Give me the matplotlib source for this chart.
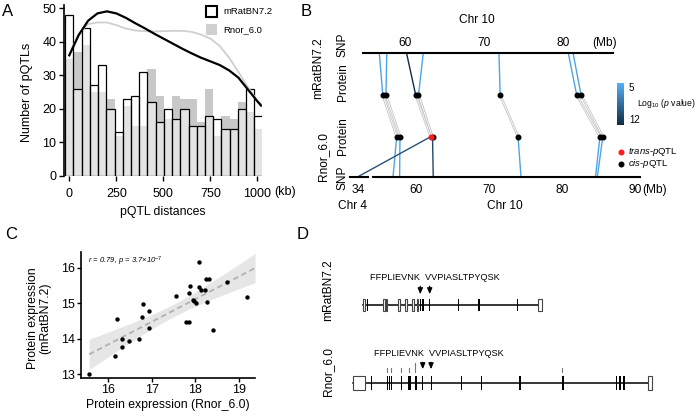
import numpy as np
import matplotlib
matplotlib.use("Agg")
import matplotlib.pyplot as plt
from matplotlib.patches import Rectangle
from matplotlib.colors import LinearSegmentedColormap

plt.rcParams['font.family'] = ['Liberation Sans', 'DejaVu Sans']
plt.rcParams['mathtext.fontset'] = 'custom'
plt.rcParams['mathtext.rm'] = 'Liberation Sans'
plt.rcParams['mathtext.it'] = 'Liberation Sans:italic'

# ---------------- data ----------------
# A: pQTL distance histograms (kb)
bin_w = 43.75
cnt_mrat = [48, 26, 44, 27, 33, 20, 13, 23, 24, 31, 22, 16, 20, 17, 20, 15, 15, 18, 17, 14, 14, 20, 26, 18]
cnt_rnor = [35, 37, 39, 25, 25, 23, 12, 21, 15, 15, 32, 24, 17, 24, 23, 23, 16, 26, 12, 18, 17, 22, 19, 14]
dens_x = [0, 50, 100, 150, 200, 250, 300, 350, 400, 450, 500, 550, 600, 650, 700, 750, 800, 850, 900, 950, 1000, 1020]
dens_mrat = [36, 42, 46.3, 48.5, 49.1, 48.5, 47.2, 45.6, 44.1, 42.5, 41, 39.5, 38, 36.6, 35.3, 34.2, 33.1, 31.5, 29.3, 25.8, 22.3, 21]
dens_rnor = [36, 42.5, 45.3, 45.8, 45.8, 45, 44, 43.4, 43.2, 43.1, 43.2, 43.3, 43.3, 43, 42.2, 41, 38.8, 35.3, 31, 26.5, 22.5, 21.5]
dist_ticks = [0, 250, 500, 750, 1000]

# B: SNP -> protein mapping (Mb)
top_snp = [56.76, 57.7, 60.2, 62.3, 71.85, 80.6, 81.2]
top_logp = [5.7, 5.7, 12, 5.7, 5.7, 5.7, 5.7]
mrat_prot = [57.2, 57.6, 61.35, 61.7, 72.0, 81.65, 82.2]
rnor_prot = [57.4, 57.85, 62.05, 62.3, 74.0, 85.2, 85.6]
rnor_trans = [False, False, True, False, False, False, False]
bot_snp = [56.9, 57.8, 34.0, 62.4, 74.4, 84.6, 84.85]
bot_chr = [10, 10, 4, 10, 10, 10, 10]
bot_logp = [5.7, 5.7, 10, 10.5, 5.7, 5.7, 5.7]
top_ticks = [60, 70, 80]
bot_ticks = [60, 70, 80, 90]

# C: protein expression
expr_rnor = [15.56, 16.15, 16.19, 16.31, 16.31, 16.48, 16.70, 16.77, 16.79, 16.94, 16.94, 17.55, 17.78,
             17.86, 17.86, 17.88, 17.95, 17.97, 18.01, 18.09, 18.09, 18.13, 18.21, 18.24, 18.30, 18.26,
             18.40, 18.73, 19.18]
expr_mrat = [13.0, 13.52, 14.55, 13.98, 13.77, 13.94, 13.98, 14.62, 14.98, 14.77, 14.30, 15.21, 14.46,
             14.46, 15.28, 15.48, 15.10, 15.06, 15.02, 16.16, 15.45, 15.36, 15.36, 15.68, 15.68, 15.03,
             14.24, 15.61, 15.17]

# D: gene models (relative units)
mrat_span = (12.7, 191.7)
mrat_utr = [(12.7, 15.3), (33.3, 34.7), (36.0, 37.3), (47.7, 49.7), (55.0, 57.0), (61.7, 63.7),
            (66.7, 68.3), (188.3, 191.7)]
mrat_cds = [(17.0, 18.3), (69.8, 71.3), (72.3, 73.8), (79.3, 80.3), (108.3, 109.3), (128.3, 129.5),
            (166.7, 167.7)]
mrat_pep = [70.3, 79.7]
rnor_span = (3.3, 301.7)
rnor_utr = [(3.3, 15.0), (298.3, 301.7)]
rnor_cds = [(20.7, 21.8), (36.7, 37.9), (38.7, 39.9), (40.7, 41.9), (50.7, 52.0), (58.3, 60.5),
            (65.3, 66.8), (71.7, 73.3), (81.0, 82.0), (111.0, 112.2), (131.0, 132.3), (169.3, 170.5),
            (212.3, 213.5), (266.0, 267.2), (269.3, 270.5), (273.3, 274.5)]
rnor_marks = [37.3, 40.7, 50.7, 58.7, 65.3, 212.3]
rnor_pep = [72.7, 81.0]

# ---------------- figure ----------------
W, H = 700, 418
fig = plt.figure(figsize=(7, 4.18), dpi=100)


def box(x0, y0, x1, y1):
    return [x0 / W, 1 - y1 / H, (x1 - x0) / W, (y1 - y0) / H]


def ftext(x, y, s, **kw):
    fig.text(x / W, 1 - y / H, s, **kw)


# ---- A ----
axA = fig.add_axes(box(64, 5, 262, 176))
centers = np.arange(len(cnt_mrat)) * bin_w
axA.bar(centers, cnt_rnor, width=bin_w, color='#c8c8c8', lw=0)
axA.bar(centers, cnt_mrat, width=bin_w, facecolor=(1, 1, 1, 0.5), edgecolor='black', lw=0.9)
axA.plot(dens_x, dens_rnor, color='#cfcfcf', lw=1.3)
axA.plot(dens_x, dens_mrat, color='black', lw=1.6)
axA.set_xlim(-28, 1025)
axA.set_ylim(0, 51)
for s in ['top', 'right', 'bottom']:
    axA.spines[s].set_visible(False)
axA.spines['left'].set_linewidth(1.2)
axA.set_yticks(range(0, 51, 10))
axA.set_xticks(dist_ticks)
axA.set_xticklabels([str(t) for t in dist_ticks])
axA.tick_params(labelsize=9, length=3.5, width=1, pad=2)
axA.tick_params(axis='x', pad=5)
ftext(274, 192, '(kb)', fontsize=9, va='center', ha='left')
ftext(27, 92, 'Number of pQTLs', fontsize=9, rotation=90, ha='center', va='center')
ftext(163, 212, 'pQTL distances', fontsize=8.8, ha='center', va='center')
fig.add_artist(Rectangle((206 / W, 1 - 16.5 / H), 11 / W, 10.5 / H, transform=fig.transFigure,
                         facecolor='white', edgecolor='black', lw=1.5))
fig.add_artist(Rectangle((206 / W, 1 - 35 / H), 11.5 / W, 11 / H, transform=fig.transFigure,
                         facecolor='#d0d0d0', edgecolor='none'))
ftext(223, 11, 'mRatBN7.2', fontsize=6.8, va='center')
ftext(223, 29.5, 'Rnor_6.0', fontsize=6.8, va='center')

# ---- B ----
axB = fig.add_axes(box(340, 0, 700, 210))
axB.set_xlim(340, 700)
axB.set_ylim(210, 0)
axB.axis('off')
row_y = [53.3, 95, 136.7, 176.7]
cmap = LinearSegmentedColormap.from_list('pv', ['#56B1F7', '#132B43'])


def top_x(mb):
    return 405 + (np.asarray(mb) - 60) * 7.93


def bot_x(mb, chrom=10):
    if chrom == 4:
        return 358 + (mb - 34) * 7.31
    return 415.7 + (mb - 60) * 7.31


def pcol(v):
    return cmap((v - 5) / 7)


# connections
for i in range(len(top_snp)):
    axB.plot([top_x(top_snp[i]), top_x(mrat_prot[i])], [row_y[0], row_y[1]],
             color=pcol(top_logp[i]), lw=1.0, zorder=2)
    xa, xb = top_x(mrat_prot[i]), bot_x(rnor_prot[i])
    axB.plot([xa, xb], [row_y[1], row_y[2]], color='#c4c4c4', lw=1.8, zorder=1, solid_capstyle='butt')
    axB.plot([xa, xb], [row_y[1], row_y[2]], color='white', lw=0.6, zorder=1)
    axB.plot([bot_x(rnor_prot[i]), bot_x(bot_snp[i], bot_chr[i])], [row_y[2], row_y[3]],
             color=pcol(bot_logp[i]), lw=1.0, zorder=2)

axB.plot(top_x(mrat_prot), [row_y[1]] * len(mrat_prot), 'o', color='black', ms=3.3, zorder=4)
for i in range(len(rnor_prot)):
    axB.plot(bot_x(rnor_prot[i]), row_y[2], 'o', ms=3.3, zorder=5 if rnor_trans[i] else 4,
             color='#ff1a1a' if rnor_trans[i] else 'black')

# axes lines
axB.plot(top_x([54.7, 86.2]), [row_y[0]] * 2, color='black', lw=1.5, zorder=3)
axB.plot([bot_x(54.2), bot_x(90.7)], [row_y[3]] * 2, color='black', lw=1.5, zorder=3)
axB.plot([bot_x(32.9, 4), bot_x(35.4, 4)], [row_y[3]] * 2, color='black', lw=1.5, zorder=3)
for t in top_ticks:
    axB.text(top_x(t), 43.3, str(t), fontsize=8.6, ha='center', va='center')
axB.text(top_x(85.2), 43.3, '(Mb)', fontsize=8.6, ha='center', va='center')
axB.text(477, 20, 'Chr 10', fontsize=8.6, ha='center', va='center')
for t in bot_ticks:
    axB.text(bot_x(t), 190, str(t), fontsize=8.6, ha='center', va='center')
axB.text(bot_x(34, 4), 190, '34', fontsize=8.6, ha='center', va='center')
axB.text(bot_x(90) + 7, 190, '(Mb)', fontsize=8.6, ha='left', va='center')
axB.text(bot_x(72.2), 206, 'Chr 10', fontsize=8.6, ha='center', va='center')
axB.text(353, 206, 'Chr 4', fontsize=8.6, ha='center', va='center')

# colour bar
axCb = fig.add_axes(box(617, 83, 624, 125))
axCb.imshow(np.linspace(0, 1, 100).reshape(-1, 1), cmap=cmap, aspect='auto', extent=[0, 1, 12, 5])
axCb.set_xticks([])
axCb.set_yticks([])
for s in axCb.spines.values():
    s.set_visible(False)
ftext(629, 88, '5', fontsize=7, va='center')
ftext(629, 120, '12', fontsize=7, va='center')
ftext(637, 103, r'Log$_{10}$ ($\it{p}$ value)', fontsize=6.2, va='center')
axB.plot([621], [152], 'o', color='#ff1a1a', ms=3.3)
axB.plot([621], [164], 'o', color='black', ms=3.3)
axB.text(628, 152, r'$\it{trans}$-$\it{p}$QTL', fontsize=6.8, va='center')
axB.text(628, 164, r'$\it{cis}$-$\it{p}$QTL', fontsize=6.8, va='center')

ftext(318, 68, 'mRatBN7.2', fontsize=8.6, rotation=90, ha='center', va='center')
ftext(343, 45, 'SNP', fontsize=8.6, rotation=90, ha='center', va='center')
ftext(343, 82, 'Protein', fontsize=8.6, rotation=90, ha='center', va='center')
ftext(323, 157, 'Rnor_6.0', fontsize=8.6, rotation=90, ha='center', va='center')
ftext(343, 136, 'Protein', fontsize=8.6, rotation=90, ha='center', va='center')
ftext(343, 178, 'SNP', fontsize=8.6, rotation=90, ha='center', va='center')

# ---- C ----
axC = fig.add_axes(box(81, 251.7, 255, 378))
xs = np.array(expr_rnor)
ys = np.array(expr_mrat)
b1, b0 = np.polyfit(xs, ys, 1)
xg = np.linspace(xs.min(), 19.37, 100)
n = len(xs)
res = ys - (b0 + b1 * xs)
sd = np.sqrt(np.sum(res ** 2) / (n - 2))
se = sd * np.sqrt(1 / n + (xg - xs.mean()) ** 2 / np.sum((xs - xs.mean()) ** 2))
yg = b0 + b1 * xg
axC.fill_between(xg, yg - 2.052 * se, yg + 2.052 * se, color='#e6e6e6', lw=0)
axC.plot(xg, yg, color='#b0b0b0', lw=1.3, ls=(0, (3, 2)))
axC.scatter(xs, ys, s=10, color='black', zorder=3, lw=0)
axC.set_xlim(15.373, 19.367)
axC.set_ylim(12.895, 16.45)
axC.set_xticks([16, 17, 18, 19])
axC.set_yticks([13, 14, 15, 16])
for s in ['top', 'right']:
    axC.spines[s].set_visible(False)
axC.spines['left'].set_linewidth(1.2)
axC.spines['bottom'].set_linewidth(1.2)
axC.tick_params(labelsize=9, length=3, width=1, pad=1.5)
axC.text(0.04, 0.92, r'r = 0.79, p = 3.7×10$^{-7}$', transform=axC.transAxes, fontsize=5.5,
         style='italic', va='center')
ftext(168, 405, 'Protein expression (Rnor_6.0)', fontsize=8.8, ha='center', va='center')
ftext(39, 318, 'Protein expression\n(mRatBN7.2)', fontsize=8.8, rotation=90, ha='center',
      va='center', linespacing=1.0)

# ---- D ----
axD = fig.add_axes(box(340, 220, 700, 418))
axD.set_xlim(-10, 350)
axD.set_ylim(418, 220)
axD.axis('off')


def gene(y, span, utr, cds, h):
    axD.plot(span, [y, y], color='black', lw=1.1, zorder=1)
    for a, b in utr:
        axD.add_patch(Rectangle((a, y - h / 2), b - a, h, facecolor='white', edgecolor='#444444',
                                lw=0.8, zorder=2))
    for a, b in cds:
        axD.add_patch(Rectangle((a, y - h / 2), b - a, h, facecolor='black', edgecolor='none', zorder=2))


gene(305, mrat_span, mrat_utr, mrat_cds, 12)
gene(383.3, rnor_span, rnor_utr, rnor_cds, 14)
for m in rnor_marks:
    axD.plot([m, m], [368, 372], color='#777777', lw=0.8)
axD.plot([65.3, 65.3], [362.5, 366.5], color='#777777', lw=0.8)
for p in mrat_pep:
    axD.annotate('', xy=(p, 297), xytext=(p, 283.5),
                 arrowprops=dict(arrowstyle='-|>,head_length=0.35,head_width=0.15', color='black', lw=0.9))
for p in rnor_pep:
    axD.annotate('', xy=(p, 372), xytext=(p, 359.5),
                 arrowprops=dict(arrowstyle='-|>,head_length=0.35,head_width=0.15', color='black', lw=0.9))
axD.text(20, 278, 'FFPLIEVNK  VVPIASLTPYQSK', fontsize=6.6, va='center')
axD.text(24, 353, 'FFPLIEVNK  VVPIASLTPYQSK', fontsize=6.6, va='center')
ftext(328, 290, 'mRatBN7.2', fontsize=8.6, rotation=90, ha='center', va='center')
ftext(328, 372, 'Rnor_6.0', fontsize=8.6, rotation=90, ha='center', va='center')

# panel letters
ftext(2, 12, 'A', fontsize=12, va='center')
ftext(301, 12, 'B', fontsize=12, va='center')
ftext(5, 234, 'C', fontsize=12, va='center')
ftext(297, 234, 'D', fontsize=12, va='center')

fig.savefig('out.png', dpi=100)
